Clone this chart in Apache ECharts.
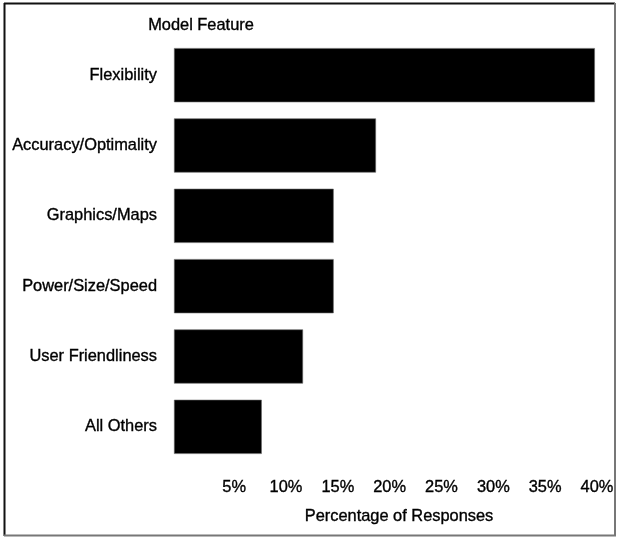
<!DOCTYPE html>
<html>
<head>
<meta charset="utf-8">
<script src="https://cdn.jsdelivr.net/npm/echarts@6/dist/echarts.min.js"></script>
<style>
html,body{margin:0;padding:0;background:#fff;}
#c{width:618px;height:538px;}
</style>
</head>
<body>
<div id="c"></div>
<script>
var categories = ['Flexibility', 'Accuracy/Optimality', 'Graphics/Maps', 'Power/Size/Speed', 'User Friendliness', 'All Others'];
var responses = [39.8, 19.1, 15.1, 15.1, 12.2, 8.3];
var tickValues = [5, 10, 15, 20, 25, 30, 35, 40];
var axisTitle = 'Percentage of Responses';
var categoryTitle = 'Model Feature';

var FONT = 'Liberation Sans, Arial, Helvetica, sans-serif';
var FS = 16.4;
var chart = echarts.init(document.getElementById('c'), null, {renderer: 'canvas'});
var heavy = {textBorderColor: '#000', textBorderWidth: 0.35};
chart.setOption({
  backgroundColor: '#fff',
  animation: false,
  grid: {left: 174, right: 21, top: 40, bottom: 76, containLabel: false},
  xAxis: [
    {
      type: 'value', min: 0, max: 40, show: true,
      axisLine: {show: false}, axisTick: {show: false}, splitLine: {show: false},
      axisLabel: {show: false}
    },
    {
      type: 'value', min: -0.8, max: 40, position: 'bottom',
      axisLine: {show: false}, axisTick: {show: false}, splitLine: {show: false},
      axisLabel: Object.assign({
        show: true, customValues: tickValues, margin: 17,
        formatter: function (v) { return v + '%'; },
        color: '#000', fontSize: FS, fontFamily: FONT
      }, heavy)
    }
  ],
  yAxis: {
    type: 'category', data: categories, inverse: true,
    axisLine: {show: false}, axisTick: {show: false}, splitLine: {show: false},
    axisLabel: Object.assign({color: '#000', fontSize: FS, fontFamily: FONT, margin: 17}, heavy)
  },
  series: [{
    type: 'bar', xAxisIndex: 0, data: responses,
    barCategoryGap: '23%',
    itemStyle: {color: '#000', borderColor: '#666', borderWidth: 0.6}
  }],
  graphic: [
    {type: 'line', shape: {x1: 4, y1: 3.5, x2: 615, y2: 3.5}, style: {stroke: '#111', lineWidth: 2}},
    {type: 'line', shape: {x1: 4.5, y1: 3, x2: 4.5, y2: 536}, style: {stroke: '#111', lineWidth: 2}},
    {type: 'line', shape: {x1: 615, y1: 3, x2: 615, y2: 536}, style: {stroke: '#777', lineWidth: 2}},
    {type: 'line', shape: {x1: 4, y1: 535.5, x2: 616, y2: 535.5}, style: {stroke: '#777', lineWidth: 2}},
    {type: 'text', x: 201, y: 25, style: {text: categoryTitle, fill: '#000', stroke: '#000', lineWidth: 0.35, font: FS + 'px ' + FONT, textAlign: 'center', textVerticalAlign: 'middle'}},
    {type: 'text', x: 399, y: 516, style: {text: axisTitle, fill: '#000', stroke: '#000', lineWidth: 0.35, font: FS + 'px ' + FONT, textAlign: 'center', textVerticalAlign: 'middle'}}
  ]
});
</script>
</body>
</html>
